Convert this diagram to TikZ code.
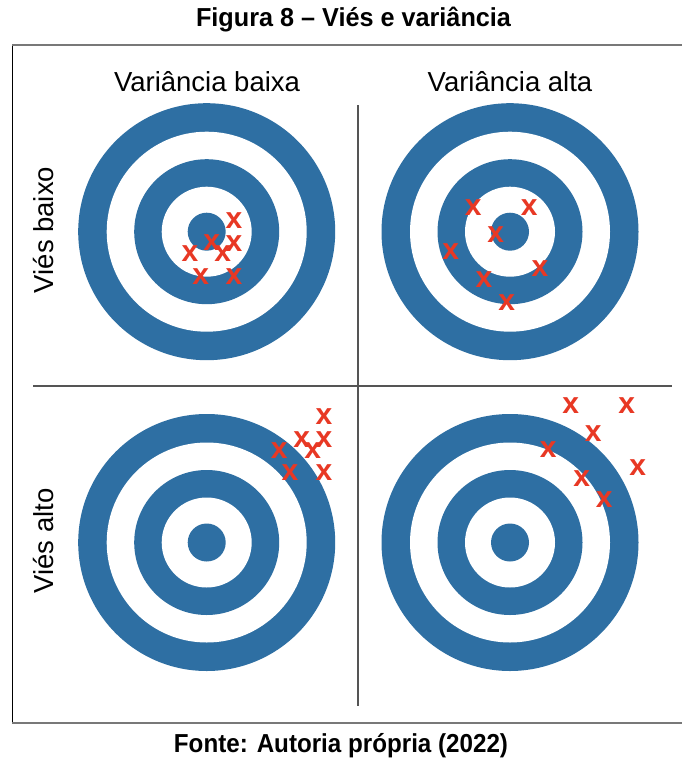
\documentclass[tikz,border=0pt]{standalone}
\usepackage{fontspec}
\setmainfont{Liberation Sans}
\definecolor{tblue}{RGB}{46,111,163}
\definecolor{tred}{RGB}{232,56,36}
\definecolor{framegray}{RGB}{120,120,120}
\definecolor{divgray}{RGB}{85,85,85}
\begin{document}
\begin{tikzpicture}[x=1pt,y=-1pt,
  titletext/.style={font=\fontsize{26}{28}\selectfont\bfseries, inner sep=0pt},
  labeltext/.style={font=\fontsize{27.5}{30}\selectfont, inner sep=0pt},
  hit/.style={font=\fontsize{30}{31}\selectfont\bfseries, text=tred, inner sep=0pt},
  divider/.style={draw=divgray, line width=1.6pt}]
\useasboundingbox (0,0) rectangle (682,760);
\fill[white] (0,0) rectangle (682,760);
% frame
\draw[black, line width=0.9pt] (12.7,44.7) -- (12.7,722.7);
\draw[framegray, line width=2pt] (12,44.7) -- (682,44.7);
\draw[framegray, line width=2pt] (12,722.7) -- (682,722.7);
% dividers
\coordinate (vtop) at (357.7,105);
\coordinate (vbot) at (357.7,706);
\coordinate (hleft) at (33,385.7);
\coordinate (hright) at (671.7,385.7);
\draw[divider] (vtop) -- (vbot);
\draw[divider] (hleft) -- (hright);
% targets
\foreach \cx/\cy/\nm in {206.7/231.7/tl, 510/231.7/tr, 206.7/542.5/bl, 510/542.5/br}{
  \fill[tblue] (\cx,\cy) circle (128.5);
  \fill[white] (\cx,\cy) circle (100);
  \fill[tblue] (\cx,\cy) circle (72.5);
  \fill[white] (\cx,\cy) circle (45);
  \fill[tblue] (\cx,\cy) circle (19);
}
% texts
\node[titletext] (title) at (353.5,20) {\scalebox{0.97}[1]{Figura 8 – Viés e variância}};
\node[titletext] (caption) at (341,746) {\scalebox{0.93}[1]{Fonte: Autoria própria (2022)}};
\node[labeltext] (vb) at (207,82) {Variância baixa};
\node[labeltext] (va) at (510,82) {Variância alta};
\node[labeltext, rotate=90] (bb) at (44,230) {Viés baixo};
\node[labeltext, rotate=90] (ba) at (44,541) {Viés alto};
% hits
\foreach \x/\y [count=\i] in {234/220.7, 211.7/242.7, 234/243.3, 190/254, 222.7/254, 200.7/276.7, 234/276.7,
  473.3/207.3, 529.3/207.3, 495.7/235, 450.7/251.7, 540/269, 484/280, 506.7/302.3,
  324/416.7, 301.7/439.3, 324/439.3, 279.3/450.7, 312.7/450.7, 290/472.7, 324/472.7,
  570.7/405.7, 626.7/405.7, 593.3/433.3, 548.3/450, 637.7/467.7, 581.7/478.3, 604.3/500}
  \node[hit] (hit\i) at (\x,\y) {x};
\end{tikzpicture}
\end{document}
